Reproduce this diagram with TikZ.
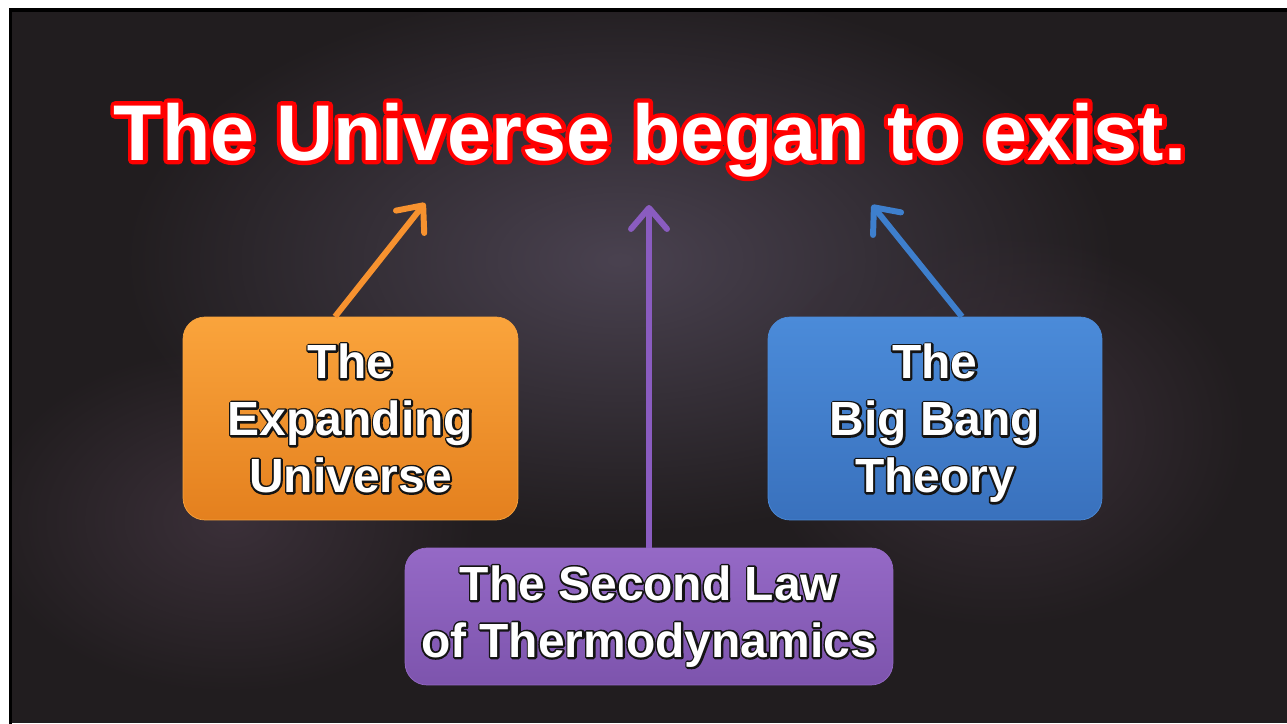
\documentclass[tikz,border=0pt]{standalone}
\usepackage{fontspec}
\setmainfont{Liberation Sans}
\usetikzlibrary{arrows.meta,fadings}
\definecolor{bgdark}{HTML}{211D1F}
\definecolor{glow}{HTML}{4A4250}
\definecolor{haze}{HTML}{3B3039}
\definecolor{orangetop}{HTML}{FAA43C}
\definecolor{orangebot}{HTML}{E4801E}
\definecolor{orangeline}{HTML}{F7922F}
\definecolor{bluetop}{HTML}{4B8BD9}
\definecolor{bluebot}{HTML}{3971BD}
\definecolor{blueline}{HTML}{3E7FCD}
\definecolor{purpletop}{HTML}{9569C6}
\definecolor{purplebot}{HTML}{7D54AD}
\definecolor{purpleline}{HTML}{8A5CC0}
\tikzfading[name=glowfade,inner color=transparent!0,outer color=transparent!100]
% stroked glyph outline: #1 stroke colour (rgb), #2 width, #3 text
\newcommand{\rimtext}[3]{\special{pdf:literal direct 2 Tr #2 w #1 RG 1 j}#3\special{pdf:literal direct 0 Tr 0.4 w}}
\newcommand{\ringed}[3]{\rlap{\rimtext{#1}{#2}{#3}}#3}
\newcommand{\wline}[1]{\ringed{0.08 0.08 0.08}{2.2}{#1}}
\begin{document}
\begin{tikzpicture}[x=0.02cm,y=-0.02cm,
    card/.style={rounded corners=0.44cm,inner sep=0pt,align=center,text=white,
      font=\fontsize{27.3}{32.4}\selectfont\bfseries},
    link/.style={line width=3.4pt,-{Straight Barb[round,length=0.42cm,width=0.72cm]}}]
  \useasboundingbox (0,0) rectangle (1287,723);
  % backdrop
  \fill[white] (0,0) rectangle (1287,723);
  \begin{scope}
    \clip (9,9) rectangle (1287,723);
    \fill[bgdark] (9,9) rectangle (1287,723);
    \fill[glow,path fading=glowfade] (620,260) ellipse (10cm and 5.5cm);
    \fill[haze,path fading=glowfade] (1000,430) ellipse (5cm and 4cm);
    \fill[haze,path fading=glowfade] (230,520) ellipse (5cm and 3.5cm);
    \draw[black,line width=1.8pt] (10,10) rectangle (1290,726);
  \end{scope}

  % title
  \node[anchor=base,text=white,font=\fontsize{45}{54}\selectfont\bfseries] (title) at (650,160)
    {\ringed{1 0 0}{5}{The Universe began to exist.}};
  \coordinate (tipE) at (425,203);
  \coordinate (tipS) at (649,205);
  \coordinate (tipB) at (872,205);

  % evidence boxes
  \node[card,top color=orangetop,bottom color=orangebot,draw=orangetop,
    minimum width=6.7cm,minimum height=4.06cm] (expand) at (350.5,418.5)
    {\wline{The}\\\wline{Expanding}\\\wline{Universe}};
  \node[card,top color=bluetop,bottom color=bluebot,draw=bluetop,
    minimum width=6.68cm,minimum height=4.06cm] (bigbang) at (935,418.5)
    {\wline{The}\\\wline{Big Bang}\\\raisebox{0pt}[\height][0pt]{\wline{Theory}}};
  \node[card,top color=purpletop,bottom color=purplebot,draw=purpletop,
    minimum width=9.76cm,minimum height=2.74cm] (second) at (649,616.5)
    {\wline{The Second Law}\\\wline{of Thermodynamics}};

  \draw[link,orangeline] ([xshift=-0.31cm]expand.north) -- (tipE);
  \draw[link,purpleline] (second.north) -- (tipS);
  \draw[link,blueline] ([xshift=0.54cm]bigbang.north) -- (tipB);
\end{tikzpicture}
\end{document}
